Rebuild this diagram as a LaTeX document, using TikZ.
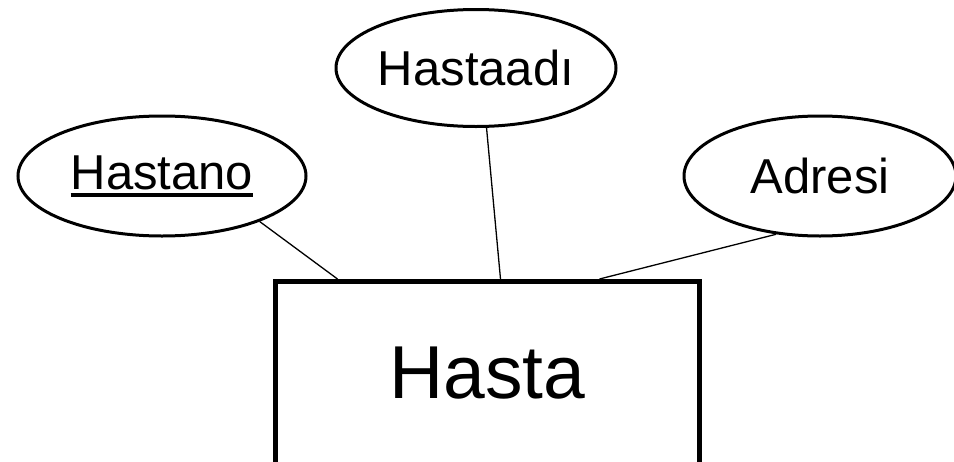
\documentclass[tikz,border=0pt]{standalone}
\usepackage{fontspec}
\setmainfont{Liberation Sans}
\usetikzlibrary{shapes,positioning}

%% underlined key attribute
\newcommand{\keyattr}[1]{\setbox0\hbox{#1}\rlap{\rule[-7.5pt]{\wd0}{4pt}}\box0}

\begin{document}
\begin{tikzpicture} [x=1pt, y=-1pt, black, text=black,
	   every node/.style={font=\fontsize{49}{58}\selectfont},
	   entity/.style 2 args = {rectangle, minimum width=#1, minimum height=#2,
	                           line width=5pt, draw, font=\fontsize{75}{90}\selectfont},
	   attribute/.style 2 args = {ellipse, minimum width=#1, minimum height=#2,
	                              inner sep=0pt, line width=3pt, draw},
	   link/.style = {line width=1.3pt}]
	\useasboundingbox (0,0) rectangle (954,461);

	%% Entity
	\node [entity={424pt}{183pt}] (hasta) at (487.5,373) {Hasta};

	%% Attributes
	\node [attribute={288pt}{120pt}] (hastano) at (162,176) {\keyattr{Hastano}};
	\node [attribute={280pt}{117pt}] (hastaadi) at (476,68) {Hastaadı};
	\node [attribute={272pt}{120pt}] (adresi) at (820,176) {Adresi};

	%% Links
	\draw[link] (hastano.-25) -- ([xshift=-150pt]hasta.north);
	\draw[link] (hastaadi.-80) -- ([xshift=13pt]hasta.north);
	\draw[link] (adresi.-127) -- ([xshift=112pt]hasta.north);
\end{tikzpicture}
\end{document}
